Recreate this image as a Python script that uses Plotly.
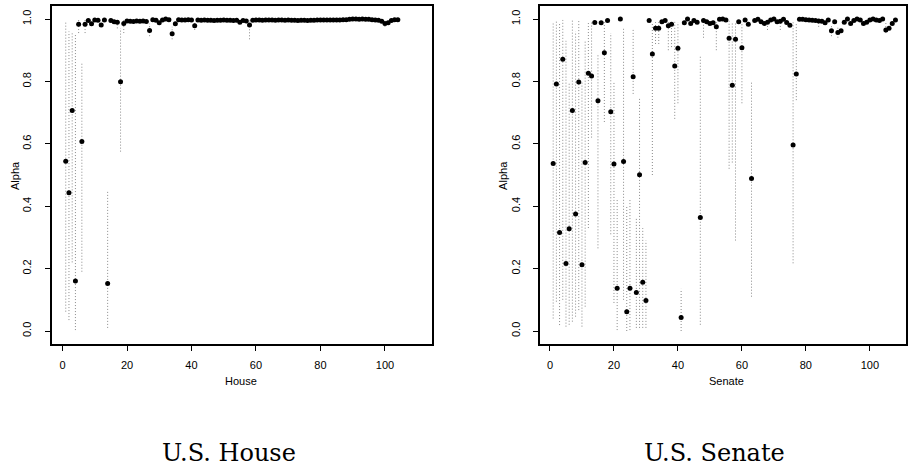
import plotly.graph_objects as go

# ---------------- U.S. House: posterior mean of alpha per member ----------------
house_id = list(range(1, 105))
house_alpha = [
    0.544, 0.443, 0.707, 0.160, 0.983, 0.607, 0.983, 0.995, 0.985, 0.997,
    0.996, 0.981, 0.997, 0.152, 0.995, 0.991, 0.990, 0.799, 0.986, 0.994,
    0.993, 0.992, 0.994, 0.993, 0.994, 0.992, 0.963, 0.998, 0.996, 0.988,
    0.997, 1.000, 0.998, 0.953, 0.985, 0.998, 0.997, 0.997, 0.998, 0.997,
    0.978, 0.997, 0.996, 0.997, 0.996, 0.996, 0.995, 0.996, 0.996, 0.997,
    0.996, 0.996, 0.995, 0.996, 0.990, 0.995, 0.994, 0.981, 0.996, 0.997,
    0.997, 0.996, 0.997, 0.997, 0.997, 0.996, 0.997, 0.997, 0.996, 0.997,
    0.996, 0.996, 0.995, 0.996, 0.996, 0.995, 0.996, 0.996, 0.997, 0.997,
    0.997, 0.997, 0.997, 0.997, 0.997, 0.997, 0.998, 0.998, 0.999, 1.000,
    1.000, 0.999, 1.000, 0.999, 0.999, 0.998, 0.997, 0.996, 0.993, 0.986,
    0.988, 0.995, 0.998, 0.998,
]
# credible intervals (members whose interval is visible)
house_ci_id = [1, 2, 3, 4, 6, 14, 18, 5, 7, 17, 19, 27, 34, 41, 58, 100]
house_ci_lo = [0.062, 0.035, 0.22, 0.003, 0.19, 0.010, 0.575,
               0.955, 0.955, 0.970, 0.955, 0.945, 0.935, 0.965, 0.935, 0.975]
house_ci_hi = [0.993, 0.960, 0.955, 0.950, 0.863, 0.452, 0.970,
               0.998, 0.997, 0.998, 0.998, 0.985, 0.975, 0.990, 0.995, 0.995]

# ---------------- U.S. Senate ----------------
senate_id = list(range(1, 109))
senate_alpha = [
    0.537, 0.792, 0.316, 0.871, 0.216, 0.328, 0.707, 0.375, 0.798, 0.212,
    0.540, 0.826, 0.817, 0.989, 0.738, 0.988, 0.892, 0.995, 0.703, 0.535,
    0.137, 1.000, 0.543, 0.062, 0.137, 0.815, 0.123, 0.501, 0.156, 0.098,
    0.995, 0.888, 0.970, 0.970, 0.991, 0.995, 0.978, 0.983, 0.849, 0.906,
    0.043, 0.988, 1.000, 0.986, 0.995, 0.990, 0.364, 0.995, 0.991, 0.986,
    0.988, 0.975, 0.999, 1.000, 0.997, 0.938, 0.788, 0.935, 0.991, 0.908,
    0.997, 0.983, 0.489, 0.995, 0.999, 0.991, 0.986, 0.990, 0.997, 1.000,
    0.991, 0.993, 0.999, 0.989, 0.980, 0.596, 0.824, 0.999, 0.999, 0.998,
    0.997, 0.996, 0.995, 0.994, 0.993, 0.988, 0.997, 0.962, 0.991, 0.957,
    0.962, 0.990, 1.000, 0.986, 0.995, 1.000, 0.997, 0.986, 0.990, 0.997,
    1.000, 0.997, 0.995, 1.000, 0.965, 0.970, 0.986, 0.997,
]
senate_ci_id = [1, 2, 3, 4, 5, 6, 7, 8, 9, 10, 11, 12, 13, 15, 17, 19, 20,
                21, 23, 24, 25, 26, 27, 28, 29, 30, 32, 33, 34, 37, 38, 39,
                40, 41, 47, 48, 52, 56, 57, 58, 60, 63, 68, 72, 76, 77, 84,
                88, 90, 105]
senate_ci_lo = [0.040, 0.094, 0.019, 0.100, 0.014, 0.020, 0.030, 0.046, 0.067,
                0.014, 0.078, 0.330, 0.620, 0.265, 0.670, 0.310, 0.090, 0.003,
                0.100, 0.000, 0.003, 0.760, 0.010, 0.010, 0.010, 0.010, 0.500,
                0.920, 0.920, 0.900, 0.910, 0.680, 0.730, 0.000, 0.020, 0.940,
                0.900, 0.520, 0.540, 0.290, 0.730, 0.110, 0.965, 0.965, 0.217,
                0.740, 0.975, 0.945, 0.940, 0.955]
senate_ci_hi = [0.990, 0.995, 0.990, 0.997, 0.930, 0.795, 0.995, 0.960, 0.995,
                0.800, 0.930, 0.990, 0.995, 0.890, 0.990, 0.955, 0.800, 0.420,
                0.970, 0.400, 0.420, 0.970, 0.360, 0.750, 0.330, 0.290, 0.990,
                0.990, 0.990, 0.995, 0.995, 0.997, 0.990, 0.135, 0.885, 0.997,
                0.990, 0.995, 0.990, 0.990, 0.990, 0.800, 0.995, 0.995, 0.990,
                0.990, 0.998, 0.980, 0.975, 0.990]

x_ticks = [0, 20, 40, 60, 80, 100]
y_ticks = [0.0, 0.2, 0.4, 0.6, 0.8, 1.0]
y_tick_text = ["0.0", "0.2", "0.4", "0.6", "0.8", "1.0"]


def segments(ids, lo, hi):
    xs, ys = [], []
    for i, a, b in zip(ids, lo, hi):
        xs += [i, i, None]
        ys += [a, b, None]
    return xs, ys


fig = go.Figure()

for ids, lo, hi, xa, ya in [
    (house_ci_id, house_ci_lo, house_ci_hi, "x", "y"),
    (senate_ci_id, senate_ci_lo, senate_ci_hi, "x2", "y2"),
]:
    sx, sy = segments(ids, lo, hi)
    fig.add_trace(go.Scatter(
        x=sx, y=sy, mode="lines", xaxis=xa, yaxis=ya,
        line=dict(color="#8a8a8a", width=1, dash="1px,2px"),
        hoverinfo="skip", showlegend=False,
    ))

for ids, vals, xa, ya in [
    (house_id, house_alpha, "x", "y"),
    (senate_id, senate_alpha, "x2", "y2"),
]:
    fig.add_trace(go.Scatter(
        x=ids, y=vals, mode="markers", xaxis=xa, yaxis=ya,
        marker=dict(color="black", size=5, line=dict(width=0)),
        showlegend=False,
    ))

tick_font = dict(family="Liberation Sans, Arial, sans-serif", size=11, color="black")
common_x = dict(
    showline=True, mirror=True, linecolor="black", linewidth=1.5,
    ticks="outside", ticklen=5, tickwidth=1, tickcolor="black",
    tickvals=x_ticks, showgrid=False, zeroline=False,
    tickfont=tick_font, ticklabelstandoff=5,
)
common_y = dict(
    showline=True, mirror=True, linecolor="black", linewidth=1.5,
    ticks="outside", ticklen=5, tickwidth=1, tickcolor="black",
    tickvals=y_ticks, ticktext=y_tick_text, tickangle=-90,
    range=[-0.0417, 1.0417], showgrid=False, zeroline=False,
    tickfont=tick_font, ticklabelstandoff=9,
)

fig.update_layout(
    width=908, height=469,
    margin=dict(l=0, r=0, t=0, b=0),
    paper_bgcolor="white", plot_bgcolor="white",
    xaxis=dict(domain=[0.0569, 0.4772], range=[-3.4, 114.7], anchor="y", **common_x),
    yaxis=dict(domain=[0.2665, 0.9872], anchor="x", **common_y),
    xaxis2=dict(domain=[0.5961, 1.0], range=[-3.1, 111.3], anchor="y2", **common_x),
    yaxis2=dict(domain=[0.2665, 0.9872], anchor="x2", **common_y),
)

label_font = dict(family="Liberation Sans, Arial, sans-serif", size=11, color="black")
title_font = dict(family="DejaVu Serif, serif", size=24, color="black")
annotations = [
    dict(text="Alpha", x=15 / 908, y=1 - 175 / 469, textangle=-90, font=label_font),
    dict(text="Alpha", x=504 / 908, y=1 - 175 / 469, textangle=-90, font=label_font),
    dict(text="House", x=242 / 908, y=1 - 381 / 469, font=label_font),
    dict(text="Senate", x=728 / 908, y=1 - 381 / 469, font=label_font),
    dict(text="U.S. House", x=230 / 908, y=1 - 453 / 469, font=title_font),
    dict(text="U.S. Senate", x=716 / 908, y=1 - 453 / 469, font=title_font),
]
for a in annotations:
    fig.add_annotation(xref="paper", yref="paper", showarrow=False,
                       xanchor="center", yanchor="middle", **a)

fig.write_html("out.html")
